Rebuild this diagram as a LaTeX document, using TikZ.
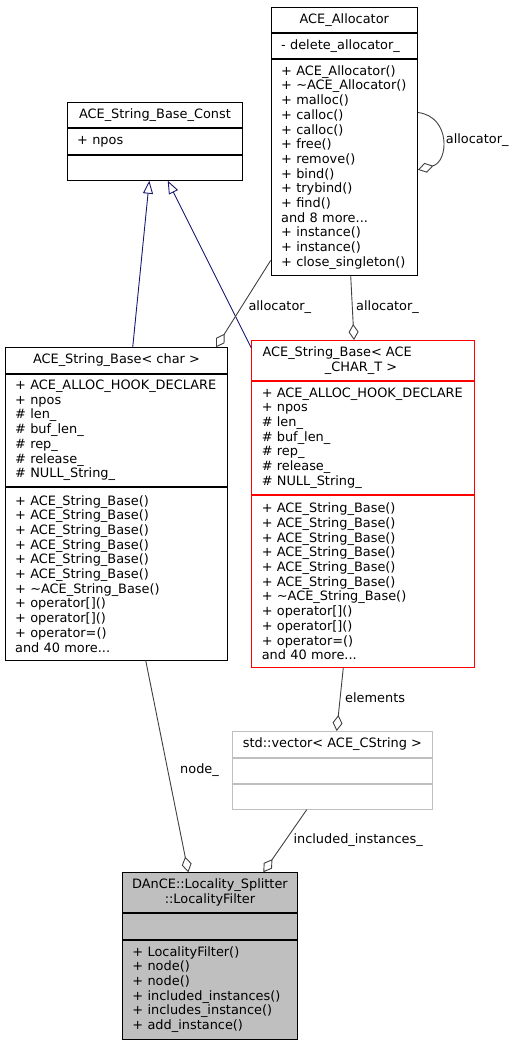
\documentclass[tikz,border=0pt]{standalone}
\usepackage{fontspec}
\setmainfont{DejaVu Sans}
\usepackage{tikz}
\usetikzlibrary{positioning}
\usetikzlibrary{arrows.meta}

\definecolor{edgegray}{HTML}{404040}
\definecolor{inhblue}{HTML}{191970}
\definecolor{boxgray}{HTML}{BFBFBF}

\newcommand{\doxfont}{\fontsize{12.9pt}{14.7pt}\selectfont}

\tikzset{
  classbox/.style={draw=black, line width=0.9pt, inner xsep=10pt, inner ysep=0pt, font=\doxfont},
  members/.style={classbox, align=left, text width=#1},
  usage/.style={draw=edgegray, line width=0.9pt, -{Diamond[open, length=16pt, width=10pt]}},
  inherit/.style={draw=inhblue, line width=0.9pt, -{Triangle[open, length=13pt, width=10pt]}},
  edgelabel/.style={anchor=base west, inner sep=0pt, font=\doxfont},
}

\begin{document}
\begin{tikzpicture}[x=1pt, y=-1pt]
  \useasboundingbox (0,0) rectangle (513,1043);

  % ACE_String_Base_Const
  \node[classbox, minimum width=175.6pt, minimum height=25.3pt, anchor=north west] (constT) at (66.7,102) {ACE\_String\_Base\_Const};
  \node[members=155.6pt, minimum height=25.7pt, below=0pt of constT] (constA) {+ npos};
  \node[classbox, minimum width=175.6pt, minimum height=25pt, below=0pt of constA] (constO) {};

  % ACE_Allocator
  \node[classbox, minimum width=146.3pt, minimum height=25.3pt, anchor=north west] (allocT) at (270.7,6.7) {ACE\_Allocator};
  \node[members=126.3pt, minimum height=25.3pt, below=0pt of allocT] (allocA) {- delete\_allocator\_};
  \node[members=126.3pt, minimum height=215.7pt, below=0pt of allocA] (allocO) {+ ACE\_Allocator()\\ + \textasciitilde ACE\_Allocator()\\ + malloc()\\ + calloc()\\ + calloc()\\ + free()\\ + remove()\\ + bind()\\ + trybind()\\ + find()\\ and 8 more...\\ + instance()\\ + instance()\\ + close\_singleton()};

  % ACE_String_Base< char >
  \node[classbox, minimum width=222.6pt, minimum height=25.4pt, anchor=north west] (asbT) at (4.7,347.3) {ACE\_String\_Base< char >};
  \node[members=202.6pt, minimum height=112.6pt, below=0pt of asbT] (asbA) {+ ACE\_ALLOC\_HOOK\_DECLARE\\ + npos\\ \# len\_\\ \# buf\_len\_\\ \# rep\_\\ \# release\_\\ \# NULL\_String\_};
  \node[members=202.6pt, minimum height=172.4pt, below=0pt of asbA] (asbO) {+ ACE\_String\_Base()\\ + ACE\_String\_Base()\\ + ACE\_String\_Base()\\ + ACE\_String\_Base()\\ + ACE\_String\_Base()\\ + ACE\_String\_Base()\\ + \textasciitilde ACE\_String\_Base()\\ + operator[]()\\ + operator[]()\\ + operator=()\\ and 40 more...};

  % ACE_String_Base< ACE_CHAR_T >
  \node[classbox, draw=red, minimum width=222.4pt, minimum height=40pt, anchor=north west] (redT) at (251.3,340) {};
  \node[edgelabel] (redT1) at (262.3,356.7) {ACE\_String\_Base< ACE};
  \node[edgelabel, anchor=base] (redT2) at (361,371.3) {\_CHAR\_T >};
  \node[members=202.4pt, draw=red, minimum height=113.3pt, below=0pt of redT] (redA) {+ ACE\_ALLOC\_HOOK\_DECLARE\\ + npos\\ \# len\_\\ \# buf\_len\_\\ \# rep\_\\ \# release\_\\ \# NULL\_String\_};
  \node[members=202.4pt, draw=red, minimum height=171.7pt, below=0pt of redA] (redO) {+ ACE\_String\_Base()\\ + ACE\_String\_Base()\\ + ACE\_String\_Base()\\ + ACE\_String\_Base()\\ + ACE\_String\_Base()\\ + ACE\_String\_Base()\\ + \textasciitilde ACE\_String\_Base()\\ + operator[]()\\ + operator[]()\\ + operator=()\\ and 40 more...};

  % std::vector< ACE_CString >
  \node[classbox, draw=boxgray, minimum width=200pt, minimum height=25.7pt, anchor=north west] (vecT) at (232,731) {std::vector< ACE\_CString >};
  \node[classbox, draw=boxgray, minimum width=200pt, minimum height=25.3pt, below=0pt of vecT] (vecA) {};
  \node[classbox, draw=boxgray, minimum width=200pt, minimum height=25pt, below=0pt of vecA] (vecO) {};

  % DAnCE::Locality_Splitter::LocalityFilter
  \node[classbox, fill=boxgray, align=center, minimum width=175pt, minimum height=40pt, anchor=north west] (danT) at (121.7,872.3) {DAnCE::Locality\_Splitter\\::LocalityFilter};
  \node[classbox, fill=boxgray, minimum width=175pt, minimum height=25.4pt, below=0pt of danT] (danA) {};
  \node[members=155pt, fill=boxgray, minimum height=99pt, below=0pt of danA] (danO) {+ LocalityFilter()\\ + node()\\ + node()\\ + included\_instances()\\ + includes\_instance()\\ + add\_instance()};

  % inheritance
  \draw[inherit] ([xshift=128pt]asbT.north west) -- ([xshift=82.6pt]constO.south west);
  \draw[inherit] ([yshift=-8pt]redT.north west) -- ([xshift=101pt]constO.south west);

  % usage
  \draw[usage] ([yshift=-53.4pt]allocO.north east) .. controls +(33,4) and +(31,-8) .. ([yshift=-110.7pt]allocO.north east);
  \draw[usage] ([yshift=15.3pt]allocO.south west) -- ([xshift=211.3pt]asbT.north west);
  \draw[usage] ([xshift=80pt]allocO.south west) -- ([xshift=102.7pt]redT.north west);
  \draw[usage] ([xshift=92pt]redO.south west) -- ([xshift=104.7pt]vecT.north west);
  \draw[usage] ([xshift=141pt]asbO.south west) -- ([xshift=66.6pt]danT.north west);
  \draw[usage] ([xshift=74.7pt]vecO.south west) -- ([xshift=141.6pt]danT.north west);

  \node[edgelabel] (selfLbl) at (445.7,143.3) {allocator\_};
  \node[edgelabel] (asbLbl) at (248.3,310) {allocator\_};
  \node[edgelabel] (redLbl) at (356,310) {allocator\_};
  \node[edgelabel] (elemLbl) at (345,702.3) {elements};
  \node[edgelabel] (nodeLbl) at (180,773.3) {node\_};
  \node[edgelabel] (inclLbl) at (293.3,843.3) {included\_instances\_};
\end{tikzpicture}
\end{document}
